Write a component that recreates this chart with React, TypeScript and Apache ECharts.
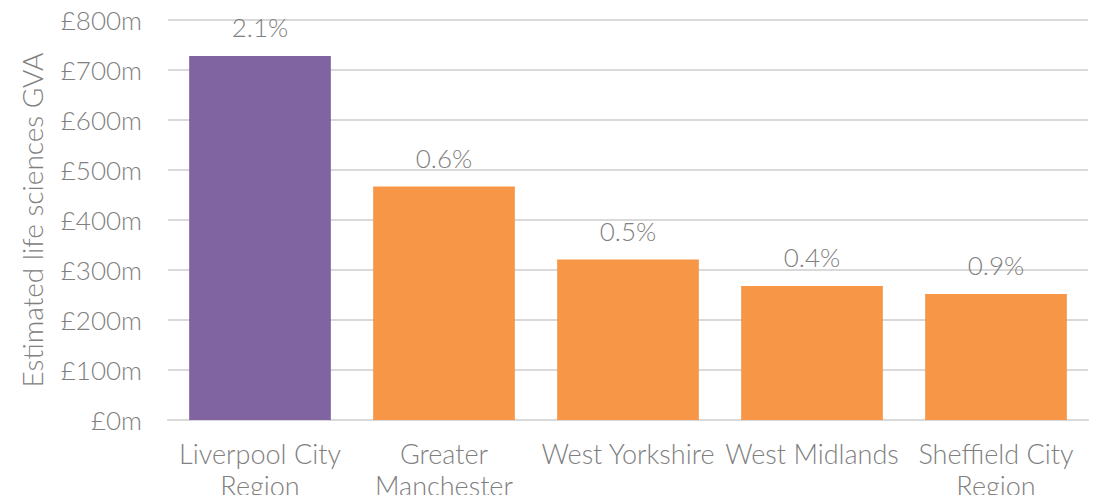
import React, { useEffect, useRef } from "react";
import * as echarts from "echarts";

const categories = [
  "Liverpool City\nRegion",
  "Greater\nManchester",
  "West Yorkshire",
  "West Midlands",
  "Sheffield City\nRegion",
];
const gvaValues = [728, 467, 321, 268, 252];
const shareLabels = ["2.1%", "0.6%", "0.5%", "0.4%", "0.9%"];
const barColors = ["#8064A2", "#F79646", "#F79646", "#F79646", "#F79646"];
const yTicks = { min: 0, max: 800, interval: 100 };

const FONT = "Lato";
const TEXT = "#808080";
const FW = 300;

export default function App() {
  const ref = useRef<HTMLDivElement>(null);
  useEffect(() => {
    if (!ref.current) return;
    const chart = echarts.init(ref.current, null, { renderer: "svg" });
    chart.setOption({
      animation: false,
      grid: { left: 168, right: 11, top: 20, bottom: 83, containLabel: false },
      xAxis: {
        type: "category",
        data: categories,
        axisLine: { show: true, lineStyle: { color: "#d9d9d9", width: 2 } },
        axisTick: { show: false },
        axisLabel: {
          interval: 0,
          color: TEXT,
          fontFamily: FONT,
          fontWeight: FW,
          fontSize: 27,
          lineHeight: 32,
          margin: 17,
        },
      },
      yAxis: {
        type: "value",
        min: yTicks.min,
        max: yTicks.max,
        interval: yTicks.interval,
        name: "Estimated life sciences GVA",
        nameLocation: "middle",
        nameGap: 122,
        nameTextStyle: { color: TEXT, fontFamily: FONT, fontWeight: FW, fontSize: 28 },
        axisLine: { show: false },
        axisTick: { show: false },
        splitLine: { lineStyle: { color: "#d9d9d9", width: 2 } },
        axisLabel: {
          color: TEXT,
          fontFamily: FONT,
          fontWeight: FW,
          fontSize: 26,
          margin: 26,
          formatter: (v: number) => "£" + v + "m",
        },
      },
      series: [
        {
          type: "bar",
          barWidth: "77%",
          data: gvaValues.map((v, i) => ({ value: v, itemStyle: { color: barColors[i] } })),
          label: {
            show: true,
            position: "top",
            distance: 16,
            color: TEXT,
            fontFamily: FONT,
            fontWeight: FW,
            fontSize: 26,
            formatter: (p: any) => shareLabels[p.dataIndex],
          },
        },
      ],
    });
    return () => chart.dispose();
  }, []);
  return <div ref={ref} style={{ width: 1099, height: 503, margin: -8 }} />;
}
